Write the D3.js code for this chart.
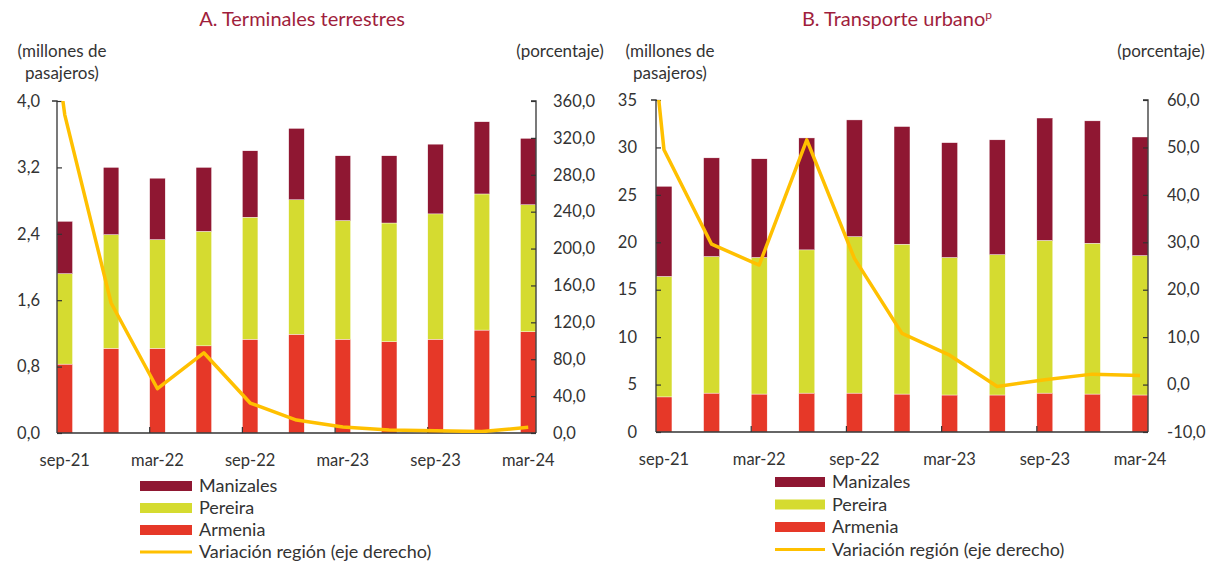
<!DOCTYPE html>
<html>
<head>
<meta charset="utf-8">
<script src="https://cdn.jsdelivr.net/npm/d3@7"></script>
<style>
  html, body { margin: 0; padding: 0; background: #fff; }
  svg { display: block; }
  text { font-family: Lato, "Open Sans", sans-serif; fill: #333; }
</style>
</head>
<body>
<svg id="chart" width="1221" height="561"></svg>
<script>
// ---------- DATA ----------
const quarters = ["sep-21","dic-21","mar-22","jun-22","sep-22","dic-22","mar-23","jun-23","sep-23","dic-23","mar-24"];
const tickLabels = ["sep-21","mar-22","sep-22","mar-23","sep-23","mar-24"];
const seriesNames = ["Armenia","Pereira","Manizales"];
const lineName = "Variación región (eje derecho)";

// Panel A: Terminales terrestres (millones de pasajeros)
const armeniaA   = [0.83, 1.02, 1.02, 1.05, 1.13, 1.19, 1.13, 1.10, 1.13, 1.24, 1.22];
const pereiraA   = [1.09, 1.37, 1.31, 1.38, 1.47, 1.62, 1.43, 1.43, 1.51, 1.64, 1.53];
const manizalesA = [0.63, 0.81, 0.74, 0.77, 0.80, 0.86, 0.78, 0.81, 0.84, 0.87, 0.80];
const variacionPrevA = 720;   // jun-21, off the scale (clipped)
const variacionA = [345, 141, 48, 87, 32.5, 14, 6.5, 3.3, 2.5, 1.5, 6.2];

// Panel B: Transporte urbano (millones de pasajeros)
const armeniaB   = [3.7, 4.1, 4.0, 4.1, 4.1, 4.0, 3.9, 3.9, 4.1, 4.0, 3.9];
const pereiraB   = [12.7, 14.4, 14.4, 15.1, 16.5, 15.8, 14.5, 14.8, 16.1, 15.9, 14.7];
const manizalesB = [9.5, 10.4, 10.4, 11.8, 12.3, 12.4, 12.1, 12.1, 12.9, 12.9, 12.5];
const variacionPrevB = 146;   // jun-21, off the scale (clipped)
const variacionB = [49.5, 29.6, 25.2, 51.6, 26.6, 10.8, 6.2, -0.4, 1.0, 2.2, 1.9];

const leftTicksA  = [0, 0.8, 1.6, 2.4, 3.2, 4.0];
const rightTicksA = [0, 40, 80, 120, 160, 200, 240, 280, 320, 360];
const leftTicksB  = [0, 5, 10, 15, 20, 25, 30, 35];
const rightTicksB = [-10, 0, 10, 20, 30, 40, 50, 60];

// ---------- STYLE ----------
const colors = { Armenia: "#e63828", Pereira: "#d5db30", Manizales: "#8f1732" };
const lineColor = "#ffc000";
const titleColor = "#a01e3c";
const axisColor = "#333";

const svg = d3.select("#chart");
const fmt1 = v => d3.format(".1f")(v).replace(".", ",").replace("−", "-");

function drawPanel(cfg) {
  const g = svg.append("g");
  const { x0, x1, yTop, yBot } = cfg;

  const x = d3.scaleBand().domain(quarters).range([x0, x1]).paddingInner(0.665).paddingOuter(0);
  const bw = x.bandwidth();
  const xc = d3.scaleLinear().domain([0, quarters.length - 1])
      .range([x(quarters[0]) + bw / 2, x(quarters[quarters.length - 1]) + bw / 2]);
  const yL = d3.scaleLinear().domain(cfg.leftDomain).range([yBot, yTop]);
  const yR = d3.scaleLinear().domain(cfg.rightDomain).range([yBot, yTop]);

  // title
  g.append("text").attr("x", cfg.titleX).attr("y", 26).attr("text-anchor", "middle")
    .style("font-size", "20px").style("fill", titleColor)
    .text(cfg.title).call(t => {
      if (cfg.sup) t.append("tspan").attr("dy", -7).style("font-size", "12px").style("fill", titleColor).text(cfg.sup);
    });

  // unit labels
  g.append("text").attr("x", cfg.unitLX).attr("y", 57).attr("text-anchor", "middle")
    .style("font-size", "17px").text("(millones de");
  g.append("text").attr("x", cfg.unitLX).attr("y", 79).attr("text-anchor", "middle")
    .style("font-size", "17px").text("pasajeros)");
  g.append("text").attr("x", cfg.unitRX).attr("y", 57).attr("text-anchor", "middle")
    .style("font-size", "17px").text("(porcentaje)");

  // stacked bars
  const rows = quarters.map((q, i) => ({
    q, Armenia: cfg.arm[i], Pereira: cfg.per[i], Manizales: cfg.man[i]
  }));
  const stack = d3.stack().keys(seriesNames)(rows);
  g.append("g").selectAll("g").data(stack).join("g")
    .attr("fill", d => colors[d.key])
    .selectAll("rect").data(d => d).join("rect")
    .attr("x", d => x(d.data.q))
    .attr("width", bw)
    .attr("y", d => yL(d[1]))
    .attr("height", d => yL(d[0]) - yL(d[1]))
    .attr("stroke", "#fff").attr("stroke-width", 0.4);

  // axes
  const left = d3.axisLeft(yL).tickValues(cfg.leftTicks).tickSize(-5).tickPadding(cfg.leftPad)
    .tickFormat(cfg.leftFmt);
  const right = d3.axisRight(yR).tickValues(cfg.rightTicks).tickSize(-5).tickPadding(cfg.rightPad)
    .tickFormat(fmt1);
  const styleAxis = a => {
    a.select(".domain").attr("stroke", axisColor).attr("stroke-width", 1.3);
    a.selectAll(".tick line").attr("stroke", axisColor).attr("stroke-width", 1.2);
    a.selectAll(".tick text").style("font-size", "16.5px").style("font-family", "Lato, sans-serif").attr("fill", "#333");
  };
  g.append("g").attr("transform", `translate(${x0},0)`).call(left).call(styleAxis)
    .call(a => a.select(".domain").attr("d", `M-5,${yTop}H0V${yBot}`));
  g.append("g").attr("transform", `translate(${x1},0)`).call(right).call(styleAxis)
    .call(a => a.select(".domain").attr("d", `M-5,${yTop}H0V${yBot}`));

  // x axis
  const tickQs = quarters.filter((q, i) => i % 2 === 0);
  g.append("line").attr("x1", x0).attr("x2", x1).attr("y1", yBot).attr("y2", yBot)
    .attr("stroke", axisColor).attr("stroke-width", 1.3);
  g.append("g").selectAll("line").data(tickQs.slice(1, -1)).join("line")
    .attr("x1", d => x(d)).attr("x2", d => x(d))
    .attr("y1", yBot).attr("y2", yBot - 6)
    .attr("stroke", axisColor).attr("stroke-width", 1.2);
  g.append("g").selectAll("text").data(tickQs).join("text")
    .attr("x", d => x(d) + bw / 2).attr("y", yBot + 33)
    .attr("text-anchor", "middle").style("font-size", "16.5px")
    .text((d, i) => tickLabels[i]);

  // line with clip
  const clipId = "clip" + cfg.id;
  svg.append("clipPath").attr("id", clipId).append("rect")
    .attr("x", x0).attr("y", yTop).attr("width", x1 - x0).attr("height", yBot - yTop);
  const pts = [[-1, cfg.varPrev]].concat(cfg.variacion.map((v, i) => [i, v]));
  g.append("path").datum(pts)
    .attr("clip-path", `url(#${clipId})`)
    .attr("fill", "none").attr("stroke", lineColor).attr("stroke-width", 3.5)
    .attr("stroke-linejoin", "round")
    .attr("d", d3.line().x(d => xc(d[0])).y(d => yR(d[1])));

  // legend
  const lg = g.append("g");
  const items = ["Manizales", "Pereira", "Armenia"];
  items.forEach((k, i) => {
    const cy = cfg.legY + i * cfg.legStep;
    lg.append("rect").attr("x", cfg.legX).attr("y", cy - 5).attr("width", cfg.legW).attr("height", 10)
      .attr("fill", colors[k]);
    lg.append("text").attr("x", cfg.legX + cfg.legW + 7).attr("y", cy + 6)
      .style("font-size", "18px").text(k);
  });
  const ly = cfg.legY + 3 * cfg.legStep;
  lg.append("line").attr("x1", cfg.legX).attr("x2", cfg.legX + cfg.legW).attr("y1", ly).attr("y2", ly)
    .attr("stroke", lineColor).attr("stroke-width", 3);
  lg.append("text").attr("x", cfg.legX + cfg.legW + 7).attr("y", ly + 6)
    .style("font-size", "18px").text(lineName);
}

drawPanel({
  id: "A", title: "A. Terminales terrestres", sup: null, titleX: 302,
  x0: 57, x1: 536, yTop: 101, yBot: 433,
  leftDomain: [0, 4], rightDomain: [0, 360],
  leftTicks: leftTicksA, rightTicks: rightTicksA, leftFmt: fmt1, leftPad: 17, rightPad: 17,
  arm: armeniaA, per: pereiraA, man: manizalesA,
  varPrev: variacionPrevA, variacion: variacionA,
  unitLX: 62, unitRX: 560,
  legX: 140, legW: 52, legY: 486, legStep: 22
});

drawPanel({
  id: "B", title: "B. Transporte urbano", sup: "p", titleX: 897,
  x0: 656, x1: 1148, yTop: 100, yBot: 432,
  leftDomain: [0, 35], rightDomain: [-10, 60],
  leftTicks: leftTicksB, rightTicks: rightTicksB, leftFmt: d3.format("d"), leftPad: 19, rightPad: 19,
  arm: armeniaB, per: pereiraB, man: manizalesB,
  varPrev: variacionPrevB, variacion: variacionB,
  unitLX: 670, unitRX: 1161,
  legX: 775, legW: 50, legY: 482, legStep: 22.5
});
</script>
</body>
</html>
